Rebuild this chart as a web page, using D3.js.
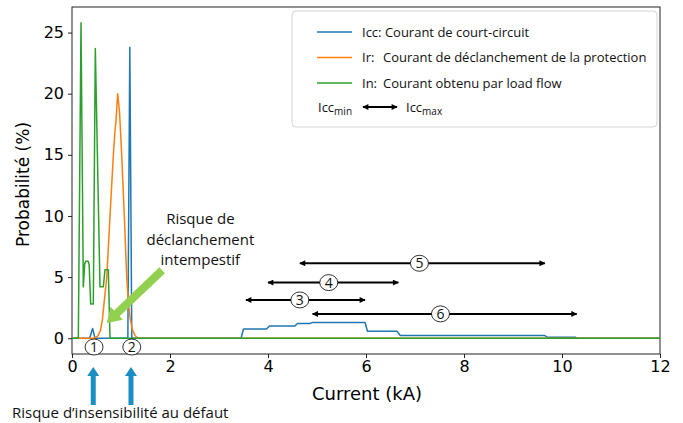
<!DOCTYPE html>
<html>
<head>
<meta charset="utf-8">
<script src="https://cdn.jsdelivr.net/npm/d3@7"></script>
<style>
  body { margin: 0; background: #fff; }
  svg { display: block; }
  .tick text { font-family: "DejaVu Sans", sans-serif; font-size: 16px; fill: #000; }
  .ann { font-family: "Open Sans", "Noto Sans", sans-serif; fill: #111; }
</style>
</head>
<body>
<div id="chart"></div>
<script>
// Icc: short-circuit current distribution [kA, %]
const iccCurve = [[0,0],[0.36,0],[0.42,0.8],[0.47,0],[1.14,0],[1.18,23.8],[1.22,0],
  [3.45,0],[3.5,0.75],[3.97,0.75],[4.03,1.0],[4.55,1.0],[4.6,1.2],[4.85,1.2],[4.9,1.28],
  [5.98,1.28],[6.03,0.57],[6.63,0.57],[6.7,0.22],[9.65,0.22],[9.7,0.08],[10.27,0.08],[10.3,0],[12,0]];
// Ir: protection tripping current
const irCurve = [[0,0],[0.45,0],[0.52,0.15],[0.58,0.6],[0.62,1.5],[0.66,3.1],[0.71,5],[0.776,10],
  [0.844,15],[0.878,17],[0.898,17.8],[0.932,20],[0.97,18.5],[1.014,15],[1.068,10],[1.116,5],
  [1.15,3],[1.184,1.7],[1.23,0.7],[1.29,0.2],[1.35,0],[12,0]];
// In: load flow current
const inCurve = [[0,0],[0.129,0],[0.184,25.8],[0.231,4.2],[0.26,6.1],[0.28,6.3],[0.33,6.3],[0.35,6.0],
  [0.381,2.8],[0.435,2.8],[0.476,23.7],[0.571,4.2],[0.639,4.2],[0.673,5.6],[0.741,5.6],[0.776,0],[12,0]];

const seriesNames = ["Icc:", "Ir:", "In:"];
const seriesLabels = ["Courant de court-circuit", "Courant de déclanchement de la protection", "Courant obtenu par load flow"];
const seriesColors = ["#1f77b4", "#ff7f0e", "#2ca02c"];

// Icc min -> max ranges: [xmin, xmax, y, label position, label]
const ranges = [[4.65, 9.65, 6.13, 7.09, "5"], [4.0, 6.66, 4.55, 5.24, "4"],
  [3.55, 5.98, 3.13, 4.65, "3"], [4.91, 10.3, 1.99, 7.52, "6"]];
// circled markers under the zero line
const markers = [[0.45, "1"], [1.22, "2"]];

const xTicks = [0, 2, 4, 6, 8, 10, 12];
const yTicks = [0, 5, 10, 15, 20, 25];

const W = 683, H = 423;
const margin = { top: 7, right: 23, bottom: 69, left: 72 };
const iw = W - margin.left - margin.right, ih = H - margin.top - margin.bottom;

const svg = d3.select("#chart").append("svg").attr("width", W).attr("height", H);
const defs = svg.append("defs");
defs.append("marker").attr("id", "ah").attr("viewBox", "0 0 10 10")
  .attr("refX", 9).attr("refY", 5).attr("markerWidth", 9).attr("markerHeight", 6)
  .attr("markerUnits", "userSpaceOnUse").attr("orient", "auto-start-reverse")
  .append("path").attr("d", "M0,0L10,5L0,10Z").attr("fill", "#000");

const g = svg.append("g").attr("transform", `translate(${margin.left},${margin.top})`);

const x = d3.scaleLinear().domain([0, 12]).range([0, iw]);
const y = d3.scaleLinear().domain([-1.29, 27.09]).range([ih, 0]);

// axes
const xAxis = g.append("g").attr("transform", `translate(0,${ih})`)
  .call(d3.axisBottom(x).tickValues(xTicks).tickSize(4).tickPadding(3));
const yAxis = g.append("g").call(d3.axisLeft(y).tickValues(yTicks).tickSize(4).tickPadding(4));
[xAxis, yAxis].forEach(a => { a.select(".domain").remove(); a.selectAll(".tick line").attr("stroke", "#222"); });

g.append("rect").attr("width", iw).attr("height", ih)
  .attr("fill", "none").attr("stroke", "#222").attr("stroke-width", 1);

g.append("text").attr("x", iw / 2 + 1).attr("y", ih + 46).attr("text-anchor", "middle")
  .attr("font-family", "DejaVu Sans").attr("font-size", 18).text("Current (kA)");
g.append("text").attr("transform", `translate(-43,${ih / 2 + 4}) rotate(-90)`).attr("text-anchor", "middle")
  .attr("font-family", "DejaVu Sans").attr("font-size", 17).text("Probabilité (%)");

// curves
const line = d3.line().x(d => x(d[0])).y(d => y(d[1]));
const plot = g.append("g");
[iccCurve, irCurve, inCurve].forEach((c, i) => {
  plot.append("path").datum(c).attr("d", line).attr("fill", "none")
    .attr("stroke", seriesColors[i]).attr("stroke-width", 1.5).attr("stroke-linejoin", "round");
});

// Icc range arrows
ranges.forEach(r => {
  g.append("line").attr("x1", x(r[0])).attr("x2", x(r[1])).attr("y1", y(r[2])).attr("y2", y(r[2]))
    .attr("stroke", "#000").attr("stroke-width", 2)
    .attr("marker-start", "url(#ah)").attr("marker-end", "url(#ah)");
  g.append("ellipse").attr("cx", x(r[3])).attr("cy", y(r[2])).attr("rx", 9).attr("ry", 8)
    .attr("fill", "#fff").attr("stroke", "#000").attr("stroke-width", 0.8);
  g.append("text").attr("class", "ann").attr("x", x(r[3])).attr("y", y(r[2]) + 5)
    .attr("text-anchor", "middle").attr("font-size", 14).text(r[4]);
});

markers.forEach(m => {
  g.append("ellipse").attr("cx", x(m[0])).attr("cy", y(-0.72)).attr("rx", 9).attr("ry", 8)
    .attr("fill", "#fff").attr("stroke", "#000").attr("stroke-width", 0.8);
  g.append("text").attr("class", "ann").attr("x", x(m[0])).attr("y", y(-0.72) + 5)
    .attr("text-anchor", "middle").attr("font-size", 14).text(m[1]);
});

// blue arrows under the axis
const blue = "#1a8fc2";
markers.forEach(m => {
  const cx = x(m[0]) - 0.8, top = ih + 13, bot = ih + 51;
  g.append("path").attr("fill", blue)
    .attr("d", `M${cx - 2.5},${bot}L${cx - 2.5},${top + 9}L${cx - 6},${top + 9}L${cx},${top}L${cx + 6},${top + 9}L${cx + 2.5},${top + 9}L${cx + 2.5},${bot}Z`);
});
g.append("text").attr("class", "ann").attr("x", 12 - margin.left).attr("y", ih + 64)
  .attr("font-size", 15).text("Risque d’insensibilité au défaut");

// green arrow: nuisance tripping
{
  const x0 = x(1.84), y0 = y(5.56), x1 = x(0.708), y1 = y(1.25);
  const ang = Math.atan2(y1 - y0, x1 - x0), len = Math.hypot(x1 - x0, y1 - y0);
  const hl = 14, hw = 9, sw = 4;
  g.append("path").attr("fill", "#92d050")
    .attr("transform", `translate(${x0},${y0}) rotate(${ang * 180 / Math.PI})`)
    .attr("d", `M0,${-sw}L${len - hl},${-sw}L${len - hl},${-hw}L${len},0L${len - hl},${hw}L${len - hl},${sw}L0,${sw}Z`);
}
const risk = g.append("text").attr("class", "ann").attr("text-anchor", "middle").attr("font-size", 15);
["Risque de", "déclanchement", "intempestif"].forEach((t, i) => {
  risk.append("tspan").attr("x", x(2.62)).attr("y", 224 - margin.top + i * 20.5).text(t);
});

// legend
const lg = svg.append("g").attr("transform", "translate(292,11)");
lg.append("rect").attr("width", 365).attr("height", 116).attr("rx", 4)
  .attr("fill", "#fff").attr("fill-opacity", 0.8).attr("stroke", "#d5d5d5");
seriesNames.forEach((n, i) => {
  const yy = 21 + i * 25.5;
  lg.append("line").attr("x1", 25).attr("x2", 60).attr("y1", yy).attr("y2", yy)
    .attr("stroke", seriesColors[i]).attr("stroke-width", 1.5);
  if (i === 0) {
    lg.append("text").attr("class", "ann").attr("x", 70).attr("y", yy + 4.5).attr("font-size", 13)
      .text(n + " " + seriesLabels[i]);
  } else {
    lg.append("text").attr("class", "ann").attr("x", 70).attr("y", yy + 4.5).attr("font-size", 13).text(n);
    lg.append("text").attr("class", "ann").attr("x", 91).attr("y", yy + 4.5).attr("font-size", 13).text(seriesLabels[i]);
  }
});
{
  const yy = 96;
  const t1 = lg.append("text").attr("class", "ann").attr("x", 26).attr("y", yy + 4.5).attr("font-size", 13);
  t1.append("tspan").text("Icc");
  t1.append("tspan").attr("dy", 3.5).attr("font-size", 10).text("min");
  lg.append("line").attr("x1", 71).attr("x2", 105).attr("y1", yy).attr("y2", yy)
    .attr("stroke", "#000").attr("stroke-width", 2)
    .attr("marker-start", "url(#ah)").attr("marker-end", "url(#ah)");
  const t2 = lg.append("text").attr("class", "ann").attr("x", 114).attr("y", yy + 4.5).attr("font-size", 13);
  t2.append("tspan").text("Icc");
  t2.append("tspan").attr("dy", 3.5).attr("font-size", 10).text("max");
}
</script>
</body>
</html>
